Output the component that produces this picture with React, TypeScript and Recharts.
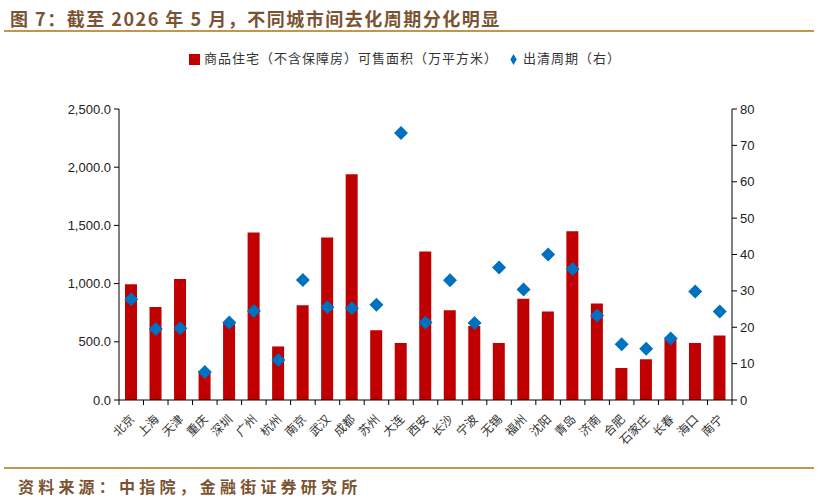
import { ComposedChart, Bar, Line, XAxis, YAxis, Legend } from "recharts";

const cities = [
  "北京", "上海", "天津", "重庆", "深圳", "广州", "杭州", "南京", "武汉", "成都",
  "苏州", "大连", "西安", "长沙", "宁波", "无锡", "福州", "沈阳", "青岛", "济南",
  "合肥", "石家庄", "长春", "海口", "南宁",
];
const saleableArea = [
  995, 800, 1040, 250, 670, 1440, 460, 815, 1395, 1940,
  600, 490, 1275, 770, 635, 490, 870, 760, 1450, 830,
  275, 350, 520, 490, 555,
];
const clearCycle = [
  27.7, 19.5, 19.7, 7.7, 21.3, 24.5, 11.0, 33.0, 25.5, 25.2,
  26.2, 73.4, 21.3, 32.9, 21.2, 36.4, 30.4, 40.0, 36.0, 23.2,
  15.3, 14.1, 16.9, 29.8, 24.3,
];
const leftTicks = [0, 500, 1000, 1500, 2000, 2500];
const rightTicks = [0, 10, 20, 30, 40, 50, 60, 70, 80];

const data = cities.map((city, i) => ({
  city,
  area: saleableArea[i],
  cycle: clearCycle[i],
}));

const BROWN = "#7a5432";
const GOLD = "#c0974c";
const HALF_BAND = 613 / cities.length / 2;

const CityTick = (props: any) => {
  const { x, y, payload, index } = props;
  const tx = x + 4;
  const ty = y + 20;
  return (
    <g>
      <line x1={x - HALF_BAND} y1={y} x2={x - HALF_BAND} y2={y + 5} stroke="#000" />
      {index === cities.length - 1 && (
        <line x1={x + HALF_BAND} y1={y} x2={x + HALF_BAND} y2={y + 5} stroke="#000" />
      )}
      <text
        x={tx}
        y={ty}
        transform={`rotate(-45, ${tx}, ${ty})`}
        textAnchor="end"
        fontSize={12}
        fill="#333"
        fontFamily="'Noto Sans CJK SC', sans-serif"
      >
        {payload.value}
      </text>
    </g>
  );
};

const Diamond = (props: any) => {
  const { cx, cy, index } = props;
  if (cx == null || cy == null) return null;
  const r = 7;
  return (
    <path
      key={index}
      d={`M${cx},${cy - r}L${cx + r},${cy}L${cx},${cy + r}L${cx - r},${cy}Z`}
      fill="#0070c0"
    />
  );
};

export default function App() {
  return (
    <div
      style={{
        position: "absolute",
        left: 0,
        top: 0,
        width: 820,
        height: 500,
        background: "#fff",
        fontFamily: "'Noto Sans CJK SC', sans-serif",
      }}
    >
      <div
        style={{
          position: "absolute",
          left: 10,
          top: 5,
          fontSize: 18,
          fontWeight: 700,
          letterSpacing: 1.5,
          color: BROWN,
          lineHeight: "26px",
        }}
      >
        图 7：截至 2026 年 5 月，不同城市间去化周期分化明显
      </div>
      <div
        style={{ position: "absolute", left: 4, top: 30, width: 810, height: 1.5, background: GOLD }}
      />
      <ComposedChart
        width={820}
        height={500}
        data={data}
        margin={{ top: 90, right: 48, left: 59, bottom: 50 }}
      >
        <XAxis
          dataKey="city"
          interval={0}
          tickSize={0}
          tickMargin={0}
          tickLine={false}
          axisLine={{ stroke: "#000" }}
          height={50}
          tick={<CityTick />}
        />
        <YAxis
          yAxisId="left"
          domain={[0, 2500]}
          ticks={leftTicks}
          width={60}
          tickSize={5}
          tickMargin={3}
          axisLine={{ stroke: "#000" }}
          tickLine={{ stroke: "#000" }}
          tick={{ fontSize: 13, fill: "#222", fontFamily: "'Liberation Sans', Arial, sans-serif" }}
          tickFormatter={(v: number) =>
            v.toLocaleString("en-US", { minimumFractionDigits: 1, maximumFractionDigits: 1 })
          }
        />
        <YAxis
          yAxisId="right"
          orientation="right"
          domain={[0, 80]}
          ticks={rightTicks}
          width={40}
          tickSize={5}
          tickMargin={3}
          axisLine={{ stroke: "#000" }}
          tickLine={{ stroke: "#000" }}
          tick={{ fontSize: 13, fill: "#222", fontFamily: "'Liberation Sans', Arial, sans-serif" }}
        />
        <Legend
          verticalAlign="top"
          iconSize={11}
          itemSorter={(item: any) => (item.dataKey === "area" ? 0 : 1)}
          wrapperStyle={{ top: 48, left: 0, width: 820, fontSize: 13, letterSpacing: 1 }}
          formatter={(value: string) => <span style={{ color: "#333" }}>{value}</span>}
        />
        <Bar
          yAxisId="left"
          dataKey="area"
          name="商品住宅（不含保障房）可售面积（万平方米）"
          fill="#c00000"
          barSize={12}
          legendType="square"
          isAnimationActive={false}
        />
        <Line
          yAxisId="right"
          dataKey="cycle"
          name="出清周期（右）"
          stroke="#0070c0"
          strokeWidth={0}
          strokeOpacity={0}
          legendType="diamond"
          dot={<Diamond />}
          activeDot={false}
          isAnimationActive={false}
        />
      </ComposedChart>
      <div
        style={{ position: "absolute", left: 4, top: 467, width: 810, height: 1.5, background: GOLD }}
      />
      <div
        style={{
          position: "absolute",
          left: 18,
          top: 474,
          fontSize: 16,
          fontWeight: 700,
          letterSpacing: 4.2,
          color: BROWN,
          lineHeight: "24px",
        }}
      >
        资料来源：中指院，金融街证券研究所
      </div>
    </div>
  );
}
